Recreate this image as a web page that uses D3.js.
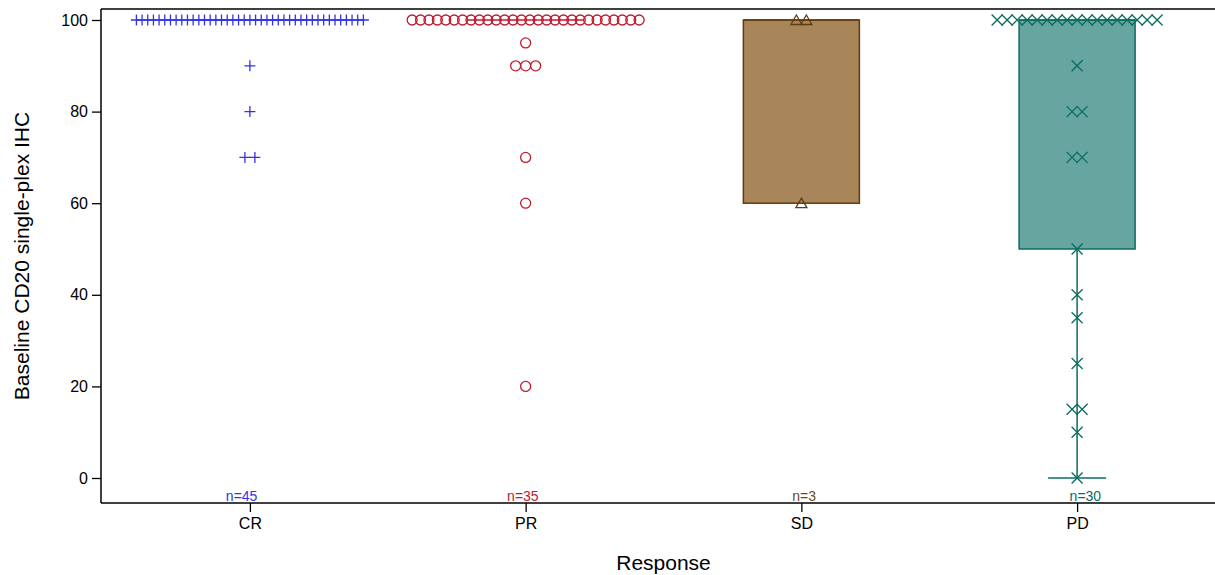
<!DOCTYPE html>
<html>
<head>
<meta charset="utf-8">
<script src="https://cdn.jsdelivr.net/npm/d3@7"></script>
<style>
  body { margin: 0; background: #fff; }
  text { font-family: "Liberation Sans", Arial, sans-serif; }
</style>
</head>
<body>
<svg id="chart"></svg>
<script>
// Response groups and their per-patient values
const categories = ["CR", "PR", "SD", "PD"];

const crValues = [
    100, 100, 100, 100, 100, 100, 100, 100, 100, 100,
    100, 100, 100, 100, 100, 100, 100, 100, 100, 100,
    100, 100, 100, 100, 100, 100, 100, 100, 100, 100,
    100, 100, 100, 100, 100, 100, 100, 100, 100, 100,
    100, 90, 80, 70, 70
];
const prValues = [
    100, 100, 100, 100, 100, 100, 100, 100, 100, 100,
    100, 100, 100, 100, 100, 100, 100, 100, 100, 100,
    100, 100, 100, 100, 100, 100, 100, 100,
    95, 90, 90, 90, 70, 60, 20
];
const sdValues = [100, 100, 60];
const pdValues = [
    100, 100, 100, 100, 100, 100, 100, 100, 100, 100,
    100, 100, 100, 100, 100, 100, 100,
    90, 80, 80, 70, 70, 50, 40, 35, 25, 15, 15, 10, 0
];

const yTicks = [0, 20, 40, 60, 80, 100];

const groups = [
    { name: "CR", values: crValues, marker: "plus",     line: "#3434e6", fill: "none",    label: "#3434e6" },
    { name: "PR", values: prValues, marker: "circle",   line: "#c01b30", fill: "none",    label: "#c01b30" },
    { name: "SD", values: sdValues, marker: "triangle", line: "#5f3c10", fill: "#a8865a", label: "#6e4a1a" },
    { name: "PD", values: pdValues, marker: "x",        line: "#0b6c62", fill: "#66a5a0", label: "#0b6c62" }
];

const W = 1215, H = 575;
const plot = { left: 101, right: 1226, top: 9, bottom: 503 };

const svg = d3.select("#chart")
    .attr("width", W)
    .attr("height", H);

svg.append("rect").attr("width", W).attr("height", H).attr("fill", "#fff");

// Scales
const x = d3.scalePoint()
    .domain(categories)
    .range([plot.left, plot.right])
    .padding(0.54);

// n= labels sit on band centres
const xBand = d3.scaleBand()
    .domain(categories)
    .range([plot.left, plot.right]);

const y = d3.scaleLinear()
    .domain([0, 100])
    .range([478, 20]);

const boxWidth = 116;

// SAS style percentile (definition 5)
function pctl(sorted, p) {
    const n = sorted.length;
    const np = n * p;
    const j = Math.floor(np);
    if (np === j) return (sorted[j - 1] + sorted[j]) / 2;
    return sorted[j];
}

function boxStats(values) {
    const s = values.slice().sort((a, b) => a - b);
    const q1 = pctl(s, 0.25), med = pctl(s, 0.5), q3 = pctl(s, 0.75);
    const iqr = q3 - q1;
    const lo = d3.min(s.filter(v => v >= q1 - 1.5 * iqr));
    const hi = d3.max(s.filter(v => v <= q3 + 1.5 * iqr));
    return { q1, med, q3, lo, hi };
}

// Spread equal values side by side
function jitter(values) {
    const counts = d3.rollup(values, v => v.length, v => v);
    const seen = new Map();
    return values.map(v => {
        const n = counts.get(v);
        const k = seen.get(v) || 0;
        seen.set(v, k + 1);
        const step = n > 1 ? Math.min(10, 227 / (n - 1)) : 0;
        return { value: v, dx: (k - (n - 1) / 2) * step };
    });
}

function markerPath(type) {
    switch (type) {
        case "plus": return "M-5.5,0H5.5M0,-5.5V5.5";
        case "circle": return "M5,0A5,5 0 1,1 -5,0A5,5 0 1,1 5,0Z";
        case "triangle": return "M0,-5L5.5,4.5H-5.5Z";
        case "x": return "M-5.5,-5.5L5.5,5.5M-5.5,5.5L5.5,-5.5";
    }
}

// Boxes and whiskers
groups.forEach(g => {
    const st = boxStats(g.values);
    const cx = x(g.name);
    const gBox = svg.append("g").attr("class", "box");

    if (st.lo < st.q1) {
        gBox.append("line")
            .attr("x1", cx).attr("x2", cx)
            .attr("y1", y(st.q1)).attr("y2", y(st.lo))
            .attr("stroke", g.line).attr("stroke-width", 1.5);
        gBox.append("line")
            .attr("x1", cx - boxWidth / 4).attr("x2", cx + boxWidth / 4)
            .attr("y1", y(st.lo)).attr("y2", y(st.lo))
            .attr("stroke", g.line).attr("stroke-width", 1.5);
    }
    if (st.hi > st.q3) {
        gBox.append("line")
            .attr("x1", cx).attr("x2", cx)
            .attr("y1", y(st.q3)).attr("y2", y(st.hi))
            .attr("stroke", g.line).attr("stroke-width", 1.5);
        gBox.append("line")
            .attr("x1", cx - boxWidth / 4).attr("x2", cx + boxWidth / 4)
            .attr("y1", y(st.hi)).attr("y2", y(st.hi))
            .attr("stroke", g.line).attr("stroke-width", 1.5);
    }

    gBox.append("rect")
        .attr("x", cx - boxWidth / 2)
        .attr("y", y(st.q3))
        .attr("width", boxWidth)
        .attr("height", Math.max(0, y(st.q1) - y(st.q3)))
        .attr("fill", g.fill)
        .attr("stroke", g.line)
        .attr("stroke-width", 1.5);

    gBox.append("line")
        .attr("x1", cx - boxWidth / 2).attr("x2", cx + boxWidth / 2)
        .attr("y1", y(st.med)).attr("y2", y(st.med))
        .attr("stroke", g.line).attr("stroke-width", 1.5);
});

// Individual markers
groups.forEach(g => {
    const cx = x(g.name);
    svg.append("g")
        .selectAll("path")
        .data(jitter(g.values))
        .enter()
        .append("path")
        .attr("transform", d => `translate(${cx + d.dx},${y(d.value)})`)
        .attr("d", markerPath(g.marker))
        .attr("fill", "none")
        .attr("stroke", g.line)
        .attr("stroke-width", 1.3);
});

// n= labels inside the bottom of the plot
svg.append("g")
    .selectAll("text")
    .data(groups)
    .enter()
    .append("text")
    .attr("x", d => xBand(d.name) + xBand.bandwidth() / 2)
    .attr("y", plot.bottom - 2)
    .attr("text-anchor", "middle")
    .attr("font-size", 14)
    .attr("fill", d => d.label)
    .text(d => "n=" + d.values.length);

// Frame lines
svg.append("line")
    .attr("x1", plot.left).attr("x2", W)
    .attr("y1", plot.top).attr("y2", plot.top)
    .attr("stroke", "#000").attr("stroke-width", 1.5);

// Axes
const yAxis = svg.append("g")
    .attr("transform", `translate(${plot.left},0)`)
    .call(d3.axisLeft(y).tickValues(yTicks).tickSize(9).tickPadding(4));
yAxis.select(".domain").remove();
yAxis.append("line")
    .attr("x1", 0).attr("x2", 0)
    .attr("y1", plot.top).attr("y2", plot.bottom)
    .attr("stroke", "#000").attr("stroke-width", 1.5);

const xAxis = svg.append("g")
    .attr("transform", `translate(0,${plot.bottom})`)
    .call(d3.axisBottom(x).tickSize(9).tickPadding(6));
xAxis.select(".domain").remove();
xAxis.append("line")
    .attr("x1", plot.left).attr("x2", W)
    .attr("y1", 0).attr("y2", 0)
    .attr("stroke", "#000").attr("stroke-width", 1.5);

svg.selectAll(".tick line").attr("stroke", "#000").attr("stroke-width", 1.3);
svg.selectAll(".tick text")
    .attr("font-family", "'Liberation Sans', Arial, sans-serif")
    .attr("font-size", 16)
    .attr("fill", "#000");

// Axis titles
svg.append("text")
    .attr("x", (plot.left + plot.right) / 2)
    .attr("y", 570)
    .attr("text-anchor", "middle")
    .attr("font-size", 21)
    .text("Response");

svg.append("text")
    .attr("transform", `translate(29,${(plot.top + plot.bottom) / 2}) rotate(-90)`)
    .attr("text-anchor", "middle")
    .attr("font-size", 21)
    .text("Baseline CD20 single-plex IHC");
</script>
</body>
</html>
